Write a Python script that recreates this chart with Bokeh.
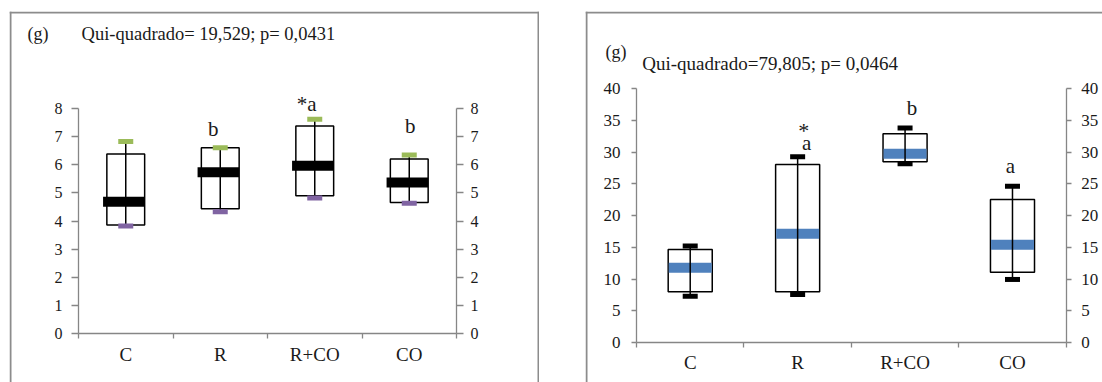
from bokeh.plotting import figure
from bokeh.layouts import row, column
from bokeh.models import ColumnDataSource, LinearAxis, FixedTicker, Label, Spacer, Range1d, Span
from bokeh.embed import file_html
from bokeh.resources import INLINE

categories = ["C", "R", "R+CO", "CO"]

# left panel: mass (g)
mass_min = [3.82, 4.33, 4.82, 4.63]
mass_q1 = [3.86, 4.44, 4.90, 4.66]
mass_median = [4.69, 5.74, 5.97, 5.37]
mass_q3 = [6.39, 6.61, 7.39, 6.21]
mass_max = [6.83, 6.61, 7.63, 6.35]
mass_letters = ["", "b", "*a", "b"]
mass_stat = "Qui-quadrado= 19,529; p= 0,0431"

# right panel
len_min = [7.3, 7.57, 28.2, 9.94]
len_q1 = [8.0, 8.0, 28.5, 11.09]
len_median = [11.78, 17.14, 29.76, 15.4]
len_q3 = [14.67, 28.07, 32.9, 22.55]
len_max = [15.2, 29.3, 33.8, 24.65]
len_letters = ["", "a", "b", "a"]
len_stars = ["", "*", "", ""]
len_stat = "Qui-quadrado=79,805; p= 0,0464"

unit = "g"
FONT = "Liberation Serif"
AXIS_GREY = "#868686"
TEXT = "#1a1a1a"
BORDER = "#8c8c8c"
HEIGHT = 371


def style_axes(p, y_top, y_step, tick_font, cat_font, left_standoff, right_standoff,
               tick_out, cat_standoff):
    n = len(categories)
    yt = FixedTicker(ticks=list(range(0, y_top + 1, y_step)))
    right = LinearAxis()
    p.add_layout(right, "right")
    for ax, so, loc in ((p.yaxis[0], left_standoff, 0), (right, right_standoff, n)):
        ax.fixed_location = loc
        ax.ticker = yt
        ax.bounds = (0, y_top)
        ax.axis_line_color = AXIS_GREY
        ax.axis_line_width = 1.3
        ax.major_tick_line_color = AXIS_GREY
        ax.major_tick_line_width = 1.3
        ax.major_tick_out = tick_out
        ax.major_tick_in = 0
        ax.minor_tick_line_color = None
        ax.major_label_text_font = FONT
        ax.major_label_text_font_size = tick_font
        ax.major_label_text_color = TEXT
        ax.major_label_standoff = so
    xa = p.xaxis[0]
    xa.fixed_location = 0
    xa.bounds = (0, n)
    xa.ticker = FixedTicker(ticks=[i + 0.5 for i in range(n)], minor_ticks=list(range(n + 1)))
    xa.major_label_overrides = {i + 0.5: c for i, c in enumerate(categories)}
    xa.axis_line_color = AXIS_GREY
    xa.axis_line_width = 1.3
    xa.major_tick_line_color = None
    xa.minor_tick_line_color = AXIS_GREY
    xa.minor_tick_line_width = 1.3
    xa.minor_tick_out = 5
    xa.minor_tick_in = 0
    xa.major_label_text_font = FONT
    xa.major_label_text_font_size = cat_font
    xa.major_label_text_color = TEXT
    xa.major_label_standoff = cat_standoff


def draw_boxes(p, lo, q1, med, q3, hi, med_color, med_dx, med_w, cap_lo, cap_hi, box_w):
    x = [i + 0.5 for i in range(len(categories))]
    src = ColumnDataSource(dict(x=x, xl=[v - box_w / 2 for v in x], xr=[v + box_w / 2 for v in x],
                                xm=[v + med_dx for v in x],
                                lo=lo, q1=q1, med=med, q3=q3, hi=hi))
    p.quad(left="xl", right="xr", bottom="q1", top="q3", source=src,
           fill_color="white", line_color="black", line_width=1.5)
    p.rect(x="xm", y="med", width=med_w, height=10, height_units="screen", source=src,
           fill_color=med_color, line_color=None)
    p.segment(x0="x", y0="lo", x1="x", y1="hi", source=src, line_color="black", line_width=1.5)
    p.rect(x="x", y="hi", width=15, height=5, width_units="screen", height_units="screen",
           source=src, fill_color=cap_hi, line_color=None)
    p.rect(x="x", y="lo", width=15, height=5, width_units="screen", height_units="screen",
           source=src, fill_color=cap_lo, line_color=None)
    return x


def make_fig(width, left_pad, px_per_cat, bottom_pad, y_top, y_span_px, borders):
    """Canvas = frame; axes are pinned at x=0, x=n and y=0 of the data space.
    left_pad/bottom_pad: pixels from canvas edge to the y=0 / x=0 axis lines;
    y_span_px: pixel length of the value axis from 0 to y_top."""
    sx = px_per_cat
    sy = y_span_px / y_top
    x0 = -left_pad / sx
    y0 = -bottom_pad / sy
    xr = (x0, x0 + width / sx)
    yr = (y0, y0 + HEIGHT / sy)
    p = figure(width=width, height=HEIGHT, output_backend="svg", toolbar_location=None,
               x_range=Range1d(*xr), y_range=Range1d(*yr),
               min_border=0, outline_line_color=None,
               background_fill_color="white", border_fill_color="white")
    p.grid.visible = False
    # panel frame (2 px grey line just inside the canvas edge)
    edges = {"left": ("height", xr[0] + 1 / sx), "right": ("height", xr[1] - 1 / sx),
             "top": ("width", yr[1] - 1 / sy)}
    for side in borders:
        dim, loc = edges[side]
        p.add_layout(Span(location=loc, dimension=dim, line_color=BORDER, line_width=2))
    return p


# ---------------- left panel ----------------
p1 = make_fig(530, 69, 94.5, 49.3, 8, 224.4, ("top", "left", "right"))
style_axes(p1, 8, 1, "16px", "19px", 9, 7, 7, 5)
xs = draw_boxes(p1, mass_min, mass_q1, mass_median, mass_q3, mass_max,
                "black", -0.02, 0.44, "#8064A2", "#9BBB59", 0.4)
p1.text(x=xs, y=mass_max, text=mass_letters, x_offset=[0, -7, -8, 1], y_offset=[0, -19, -15, -29],
        text_font=FONT, text_font_size="21px", text_align="center", text_baseline="middle",
        text_color=TEXT)
p1.add_layout(Label(x=-0.54, y=10.68, text=f"({unit})", text_font=FONT, text_font_size="18px",
                    text_baseline="middle", text_color=TEXT))
p1.add_layout(Label(x=0.032, y=10.68, text=mass_stat, text_font=FONT, text_font_size="18.5px",
                    text_baseline="middle", text_color=TEXT))

# ---------------- right panel ----------------
p2 = make_fig(517, 51, 107.425, 40, 40, 253.7, ("top", "left"))
style_axes(p2, 40, 5, "17px", "19px", 11, 10, 5, 3)
xs2 = draw_boxes(p2, len_min, len_q1, len_median, len_q3, len_max,
                 "#4F81BD", 0.0, 0.4, "black", "black", 0.41)
p2.text(x=xs2, y=len_max, text=len_letters, x_offset=[0, 9, 7, -2], y_offset=[0, -14, -20, -20],
        text_font=FONT, text_font_size="21px", text_align="center", text_baseline="middle",
        text_color=TEXT)
p2.text(x=xs2, y=len_max, text=len_stars, x_offset=[0, 6, 0, 0], y_offset=[0, -26, 0, 0],
        text_font=FONT, text_font_size="22px", text_align="center", text_baseline="middle",
        text_color=TEXT)
p2.add_layout(Label(x=-0.289, y=45.77, text=f"({unit})", text_font=FONT, text_font_size="18px",
                    text_baseline="middle", text_color=TEXT))
p2.add_layout(Label(x=0.053, y=43.95, text=len_stat, text_font=FONT, text_font_size="19px",
                    text_baseline="middle", text_color=TEXT))

layout = column(Spacer(height=11),
                row(Spacer(width=9), p1, Spacer(width=46), p2))

open("out.html", "w").write(file_html(layout, INLINE))
